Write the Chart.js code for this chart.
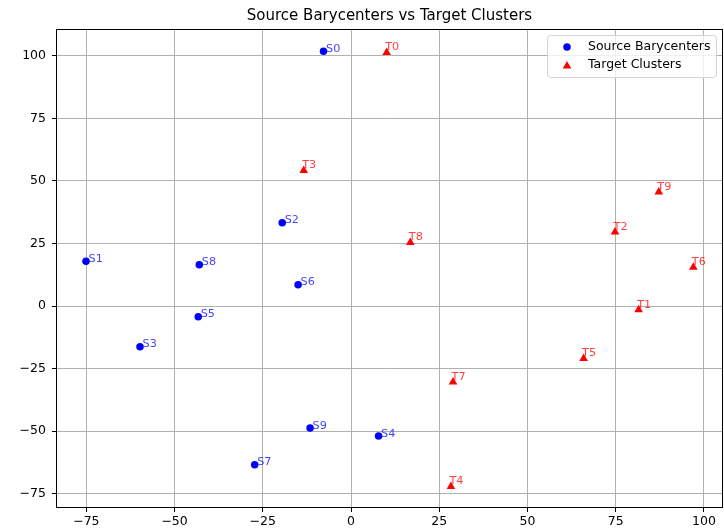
<!DOCTYPE html>
<html>
<head>
<meta charset="utf-8">
<script src="https://cdn.jsdelivr.net/npm/chart.js@4.4.1/dist/chart.umd.min.js"></script>
<style>
  html, body { margin: 0; padding: 0; background: #fff; }
  #wrap { width: 724px; height: 530px; }
</style>
</head>
<body>
<div id="wrap"><canvas id="chart" width="724" height="530"></canvas></div>
<script>
// source barycenters
var sourceLabels = ['S0', 'S1', 'S2', 'S3', 'S4', 'S5', 'S6', 'S7', 'S8', 'S9'];
var sourceX = [-7.8, -75.1, -19.5, -59.8, 7.8, -43.3, -15.0, -27.3, -43.0, -11.6];
var sourceY = [101.9, 17.9, 33.3, -16.3, -52.0, -4.3, 8.5, -63.5, 16.5, -48.8];

// target clusters
var targetLabels = ['T0', 'T1', 'T2', 'T3', 'T4', 'T5', 'T6', 'T7', 'T8', 'T9'];
var targetX = [10.1, 81.5, 74.8, -13.4, 28.3, 65.9, 97.0, 28.9, 16.8, 87.2];
var targetY = [101.4, -1.5, 29.6, 54.2, -72.2, -21.0, 15.5, -30.4, 25.4, 45.6];

var tickValues = [-75, -50, -25, 0, 25, 50, 75, 100];

var FONT = 'DejaVu Sans';

function toPoints(xs, ys) {
    return xs.map(function(x, i) {
        return { x: x, y: ys[i] }
    })
}

function fixedTicks(scale) {
    scale.ticks = tickValues.map(function(v) { return { value: v } })
}

function fmt(v) {
    return String(v).replace('-', '\u2212')
}

// title, point labels, frame and legend drawn on top
var extras = {
    id: 'extras',
    afterDatasetsDraw: function(chart) {
        var ctx = chart.ctx;
        var names = [sourceLabels, targetLabels];
        var colors = ['rgba(0,0,255,0.75)', 'rgba(255,0,0,0.75)'];
        // label offsets from the marker (px)
        var dx = [2.5, -1.5], dy = [0.5, -2.25];
        ctx.save();
        ctx.font = '11.25px "' + FONT + '"';
        ctx.textAlign = 'left';
        ctx.textBaseline = 'alphabetic';
        chart.data.datasets.forEach(function(ds, di) {
            ctx.fillStyle = colors[di];
            chart.getDatasetMeta(di).data.forEach(function(el, i) {
                ctx.fillText(names[di][i], el.x + dx[di], el.y + dy[di]);
            });
        });
        ctx.restore();
    },
    afterDraw: function(chart) {
        var ctx = chart.ctx;
        var a = chart.chartArea;
        ctx.save();

        // frame
        ctx.strokeStyle = '#000';
        ctx.lineWidth = 1;
        ctx.strokeRect(Math.round(a.left) + 0.5, Math.round(a.top) + 0.5,
            Math.round(a.right - a.left) - 1, Math.round(a.bottom - a.top) - 1);

        // title
        ctx.fillStyle = '#000';
        ctx.font = '15px "' + FONT + '"';
        ctx.textAlign = 'center';
        ctx.textBaseline = 'middle';
        ctx.fillText('Source Barycenters vs Target Clusters', (a.left + a.right) / 2, 16);

        // legend
        var lx = a.right - 175.5, ly = a.top + 6.5, lw = 169, lh = 42;
        ctx.beginPath();
        ctx.roundRect(lx, ly, lw, lh, 3);
        ctx.fillStyle = 'rgba(255,255,255,0.8)';
        ctx.fill();
        ctx.strokeStyle = '#d4d4d4';
        ctx.stroke();

        var mx = lx + 19.5;
        ctx.fillStyle = 'blue';
        ctx.beginPath();
        ctx.arc(mx, ly + 11.5, 3.75, 0, Math.PI * 2);
        ctx.fill();

        ctx.fillStyle = 'red';
        ctx.beginPath();
        ctx.moveTo(mx, ly + 25.5);
        ctx.lineTo(mx + 4.3, ly + 33);
        ctx.lineTo(mx - 4.3, ly + 33);
        ctx.closePath();
        ctx.fill();

        ctx.fillStyle = '#000';
        ctx.font = '12.5px "' + FONT + '"';
        ctx.textAlign = 'left';
        ctx.textBaseline = 'middle';
        ctx.fillText('Source Barycenters', lx + 40.5, ly + 11.5);
        ctx.fillText('Target Clusters', lx + 40.5, ly + 29.5);
        ctx.restore();
    }
};

var ctx = document.getElementById('chart').getContext('2d');
new Chart(ctx, {
    type: 'scatter',
    data: {
        datasets: [{
            label: 'Source Barycenters',
            data: toPoints(sourceX, sourceY),
            pointStyle: 'circle',
            pointRadius: 3.75,
            pointHoverRadius: 3.75,
            backgroundColor: 'blue',
            borderWidth: 0
        }, {
            label: 'Target Clusters',
            data: toPoints(targetX, targetY),
            pointStyle: 'triangle',
            pointRadius: 5,
            pointHoverRadius: 5,
            backgroundColor: 'red',
            borderWidth: 0
        }]
    },
    options: {
        responsive: false,
        animation: false,
        events: [],
        layout: {
            autoPadding: false,
            padding: { top: 29, right: 1, left: 0, bottom: 0 }
        },
        plugins: {
            legend: { display: false },
            title: { display: false },
            tooltip: { enabled: false }
        },
        scales: {
            x: {
                type: 'linear',
                min: -83.6,
                max: 105.4,
                afterBuildTicks: fixedTicks,
                afterFit: function(scale) {
                    scale.height = 22;
                    scale.paddingLeft = 0;
                    scale.paddingRight = 0;
                },
                border: { display: false },
                grid: {
                    color: '#b0b0b0',
                    lineWidth: 1,
                    tickColor: '#000',
                    tickLength: 4
                },
                ticks: {
                    color: '#000',
                    padding: 2,
                    maxRotation: 0,
                    font: { family: FONT, size: 12.5 },
                    callback: function(v) { return fmt(v) }
                }
            },
            y: {
                type: 'linear',
                min: -80.8,
                max: 110.8,
                afterBuildTicks: fixedTicks,
                afterFit: function(scale) {
                    scale.width = 56;
                    scale.paddingTop = 0;
                    scale.paddingBottom = 0;
                },
                border: { display: false },
                grid: {
                    color: '#b0b0b0',
                    lineWidth: 1,
                    tickColor: '#000',
                    tickLength: 4
                },
                ticks: {
                    color: '#000',
                    padding: 6,
                    font: { family: FONT, size: 12.5 },
                    callback: function(v) { return fmt(v) }
                }
            }
        }
    },
    plugins: [extras]
});
</script>
</body>
</html>
